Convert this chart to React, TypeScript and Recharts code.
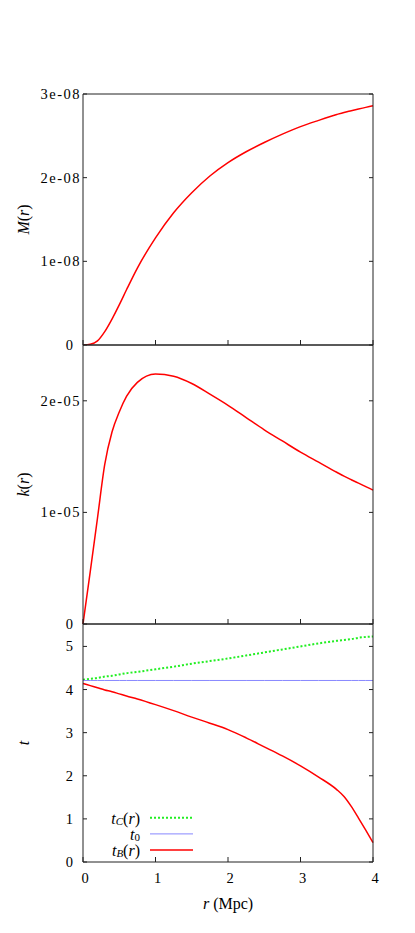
import * as React from "react";
import { LineChart, Line, XAxis, YAxis, Legend } from "recharts";

// radius grid (Mpc)
const rValues = [0, 0.1, 0.2, 0.3, 0.4, 0.5, 0.6, 0.75, 1, 1.25, 1.5, 1.75, 2, 2.25, 2.5, 2.75, 3, 3.25, 3.5, 3.6, 3.7, 3.8, 3.9, 4];

// M(r)
const massValues = [0, 0.01e-8, 0.05e-8, 0.16e-8, 0.31e-8, 0.48e-8, 0.66e-8, 0.92e-8, 1.28e-8, 1.58e-8, 1.82e-8, 2.02e-8, 2.18e-8, 2.31e-8, 2.42e-8, 2.52e-8, 2.61e-8, 2.685e-8, 2.755e-8, 2.78e-8, 2.8e-8, 2.82e-8, 2.84e-8, 2.86e-8];
// k(r)
const curvatureValues = [0, 0.47e-5, 0.95e-5, 1.43e-5, 1.72e-5, 1.9e-5, 2.04e-5, 2.165e-5, 2.24e-5, 2.22e-5, 2.155e-5, 2.06e-5, 1.96e-5, 1.85e-5, 1.74e-5, 1.64e-5, 1.54e-5, 1.45e-5, 1.36e-5, 1.325e-5, 1.293e-5, 1.262e-5, 1.231e-5, 1.2e-5];
// times
const tCValues = [4.23, 4.25, 4.27, 4.3, 4.32, 4.35, 4.38, 4.41, 4.47, 4.53, 4.6, 4.66, 4.72, 4.79, 4.86, 4.93, 5.0, 5.07, 5.13, 5.15, 5.17, 5.2, 5.22, 5.23];
const t0Values = [4.21, 4.21, 4.21, 4.21, 4.21, 4.21, 4.21, 4.21, 4.21, 4.21, 4.21, 4.21, 4.21, 4.21, 4.21, 4.21, 4.21, 4.21, 4.21, 4.21, 4.21, 4.21, 4.21, 4.21];
const tBValues = [4.14, 4.09, 4.04, 3.99, 3.95, 3.9, 3.85, 3.78, 3.65, 3.51, 3.36, 3.22, 3.07, 2.88, 2.67, 2.46, 2.23, 1.97, 1.68, 1.52, 1.29, 1.02, 0.74, 0.45];

const xTicks = [0, 1, 2, 3, 4];
const xTickLabels = ["0", "1", "2", "3", "4"];
const massTicks = [0, 1e-8, 2e-8, 3e-8];
const massTickLabels = ["0", "1e-08", "2e-08", "3e-08"];
const curvTicks = [0, 1e-5, 2e-5];
const curvTickLabels = ["0", "1e-05", "2e-05"];
const timeTicks = [0, 1, 2, 3, 4, 5];
const timeTickLabels = ["0", "1", "2", "3", "4", "5"];

const data = rValues.map((r, i) => ({
  r,
  m: massValues[i],
  k: curvatureValues[i],
  tc: tCValues[i],
  t0: t0Values[i],
  tb: tBValues[i],
}));

const W = 415;
const H = 933;
const PLOT_LEFT = 83;
const PLOT_RIGHT = 373;
const FONT = "'Liberation Serif', 'Times New Roman', serif";
const FRAME = "#222";
const RED = "#ff0000";
const GREEN = "#22ee22";
const BLUE = "#8888ff";

function labelFor(value: number, ticks: number[], labels: string[]) {
  const scale = Math.abs(ticks[ticks.length - 1]);
  const i = ticks.findIndex((t) => Math.abs(t - value) < scale * 1e-6);
  return i >= 0 ? labels[i] : "";
}

function LeftTick(props: any) {
  const { x, y, payload, ticks, labels } = props;
  const label = labelFor(payload.value, ticks, labels);
  const long = label.length > 1;
  return (
    <g>
      <line x1={x} x2={x + 4} y1={y} y2={y} stroke={FRAME} />
      <text x={x - (long ? 2 : 10)} y={y} textAnchor="end" dominantBaseline="central" fontFamily={FONT} fontSize={14.5} letterSpacing={long ? 1.5 : 0} fill="#000">
        {label}
      </text>
    </g>
  );
}

function RightTick(props: any) {
  const { x, y } = props;
  return <line x1={x} x2={x - 4} y1={y} y2={y} stroke={FRAME} />;
}

function BottomTick(props: any) {
  const { x, y, payload, showLabel } = props;
  const label = labelFor(payload.value, xTicks, xTickLabels);
  return (
    <g>
      <line x1={x} x2={x} y1={y} y2={y - 5} stroke={FRAME} />
      {showLabel && (
        <text x={x + 2} y={y + 16} textAnchor="middle" dominantBaseline="central" fontFamily={FONT} fontSize={14.5} fill="#000">
          {label}
        </text>
      )}
    </g>
  );
}

function YTitle(props: any) {
  const { viewBox, kind } = props;
  const cx = viewBox.x + viewBox.width - 60;
  const cy = viewBox.y + viewBox.height / 2;
  return (
    <text x={cx} y={cy} transform={`rotate(-90, ${cx}, ${cy})`} textAnchor="middle" dominantBaseline="central" fontFamily={FONT} fontSize={16} fill="#000">
      {kind === "t" ? (
        <tspan fontStyle="italic">t</tspan>
      ) : (
        <>
          <tspan fontStyle="italic">{kind}</tspan>
          <tspan>(</tspan>
          <tspan fontStyle="italic">r</tspan>
          <tspan>)</tspan>
        </>
      )}
    </text>
  );
}

function XTitle(props: any) {
  const { viewBox } = props;
  const cx = viewBox.x + viewBox.width / 2;
  const cy = viewBox.y + 41;
  return (
    <text x={cx} y={cy} textAnchor="middle" dominantBaseline="central" fontFamily={FONT} fontSize={16} fill="#000">
      <tspan fontStyle="italic">r</tspan>
      <tspan> (Mpc)</tspan>
    </text>
  );
}

function TimeLegend() {
  const rows = [
    { sub: "C", arg: true, stroke: GREEN, width: 2, dash: "2 2" },
    { sub: "0", arg: false, stroke: BLUE, width: 1, dash: undefined },
    { sub: "B", arg: true, stroke: RED, width: 1.5, dash: undefined },
  ];
  return (
    <svg width={110} height={56} style={{ display: "block" }}>
      {rows.map((row, i) => {
        const cy = 12.7 + i * 16.2;
        return (
          <g key={row.sub}>
            <text x={45} y={cy} textAnchor="end" dominantBaseline="central" fontFamily={FONT} fontSize={16} fill="#000">
              <tspan fontStyle="italic">t</tspan>
              <tspan fontSize={11} dy={3} fontStyle={row.sub === "0" ? "normal" : "italic"}>{row.sub}</tspan>
              {row.arg ? (
                <>
                  <tspan dy={-3}>(</tspan>
                  <tspan fontStyle="italic">r</tspan>
                  <tspan>)</tspan>
                </>
              ) : null}
            </text>
            <line x1={55} x2={98} y1={cy} y2={cy} stroke={row.stroke} strokeWidth={row.width} strokeDasharray={row.dash} />
          </g>
        );
      })}
    </svg>
  );
}

function frameAxes(ticks: number[], labels: string[], domain: [number, number], showX: boolean, titleKind: string) {
  return [
    <XAxis
      key="xb"
      dataKey="r"
      type="number"
      domain={[0, 4]}
      ticks={xTicks}
      interval={0}
      height={1}
      tickSize={0}
      tickMargin={0}
      tickLine={false}
      axisLine={{ stroke: FRAME }}
      tick={(p: any) => <BottomTick {...p} showLabel={showX} />}
      label={showX ? <XTitle /> : undefined}
    />,
    <XAxis key="xt" xAxisId="top" orientation="top" dataKey="r" type="number" domain={[0, 4]} height={1} tick={false} tickLine={false} axisLine={{ stroke: FRAME }} />,
    <YAxis
      key="yl"
      type="number"
      domain={domain}
      ticks={ticks}
      interval={0}
      allowDataOverflow
      width={1}
      tickSize={0}
      tickMargin={0}
      tickLine={false}
      axisLine={{ stroke: FRAME }}
      tick={(p: any) => <LeftTick {...p} ticks={ticks} labels={labels} />}
      label={<YTitle kind={titleKind} />}
    />,
    <YAxis
      key="yr"
      yAxisId="right"
      orientation="right"
      type="number"
      domain={domain}
      ticks={ticks}
      interval={0}
      allowDataOverflow
      width={1}
      tickSize={0}
      tickMargin={0}
      tickLine={false}
      axisLine={{ stroke: FRAME }}
      tick={(p: any) => <RightTick {...p} />}
    />,
  ];
}

// margins leave room for the 1px axis bands around each plot box
function panelMargin(top: number, bottom: number) {
  return { top: top - 1, bottom: H - bottom - 1, left: PLOT_LEFT - 1, right: W - PLOT_RIGHT - 1 };
}

const layer: React.CSSProperties = { position: "absolute", left: 0, top: 0 };

export default function App() {
  return (
    <div style={{ position: "absolute", left: 0, top: 0, width: W, height: H, background: "#fff" }}>
      <div style={layer}>
        <LineChart width={W} height={H} data={data} margin={panelMargin(94, 345)}>
          {frameAxes(massTicks, massTickLabels, [0, 3e-8], false, "M")}
          <Line dataKey="m" type="monotone" stroke={RED} strokeWidth={1.5} dot={false} isAnimationActive={false} />
        </LineChart>
      </div>
      <div style={layer}>
        <LineChart width={W} height={H} data={data} margin={panelMargin(345, 624)}>
          {frameAxes(curvTicks, curvTickLabels, [0, 2.5e-5], false, "k")}
          <Line dataKey="k" type="monotone" stroke={RED} strokeWidth={1.5} dot={false} isAnimationActive={false} />
        </LineChart>
      </div>
      <div style={layer}>
        <LineChart width={W} height={H} data={data} margin={panelMargin(624, 862)}>
          {frameAxes(timeTicks, timeTickLabels, [0, 5.52], true, "t")}
          <Line dataKey="tc" type="monotone" stroke={GREEN} strokeWidth={2} strokeDasharray="2 2" dot={false} isAnimationActive={false} />
          <Line dataKey="t0" type="linear" stroke={BLUE} strokeWidth={1} dot={false} isAnimationActive={false} />
          <Line dataKey="tb" type="monotone" stroke={RED} strokeWidth={1.5} dot={false} isAnimationActive={false} />
          <Legend
            layout="vertical"
            align="center"
            verticalAlign="middle"
            wrapperStyle={{ left: 95, top: 805, width: 110, height: 56 }}
            content={() => <TimeLegend />}
          />
        </LineChart>
      </div>
    </div>
  );
}
